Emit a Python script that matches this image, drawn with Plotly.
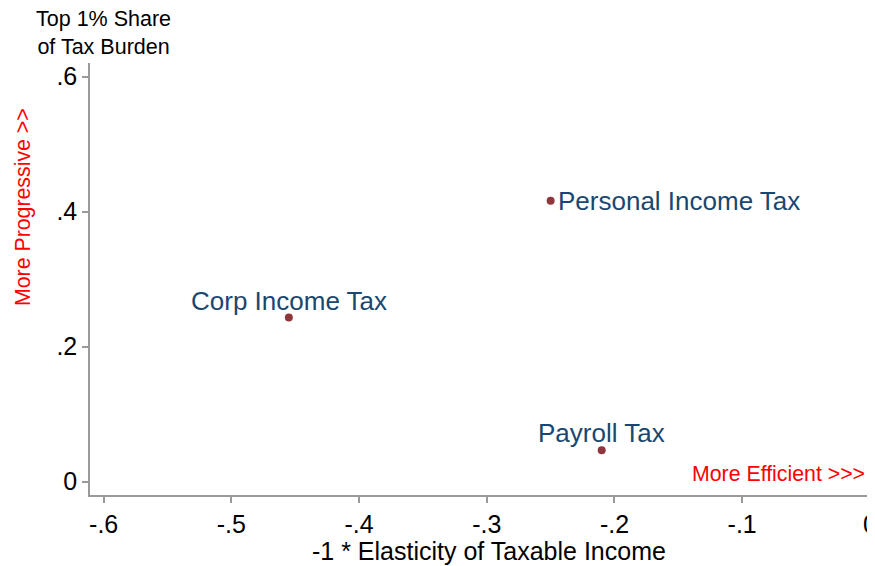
import plotly.graph_objects as go

taxes = ["Personal Income Tax", "Corp Income Tax", "Payroll Tax"]
elasticity = [-0.25, -0.455, -0.21]
top1_share = [0.416, 0.243, 0.0465]
label_side = ["right", "top", "top"]

x_ticks = [-0.6, -0.5, -0.4, -0.3, -0.2, -0.1, 0]
x_tick_labels = ["-.6", "-.5", "-.4", "-.3", "-.2", "-.1", "0"]
y_ticks = [0, 0.2, 0.4, 0.6]
y_tick_labels = ["0", ".2", ".4", ".6"]

FONT = "Liberation Sans, Arial, sans-serif"
AXIS_COLOR = "#9a9a9a"
LABEL_COLOR = "#1a476f"

fig = go.Figure()
fig.add_trace(go.Scatter(
    x=elasticity, y=top1_share, mode="markers",
    marker=dict(color="#90353b", size=8),
    cliponaxis=False, showlegend=False, hoverinfo="skip",
))

label_annotations = []
for name, xv, yv, side in zip(taxes, elasticity, top1_share, label_side):
    if side == "right":
        label_annotations.append(dict(
            text=name, x=xv, y=yv, xref="x", yref="y", showarrow=False,
            xanchor="left", yanchor="middle", xshift=5, yshift=0,
            font=dict(size=26, color=LABEL_COLOR)))
    else:
        label_annotations.append(dict(
            text=name, x=xv, y=yv, xref="x", yref="y", showarrow=False,
            xanchor="center", yanchor="bottom", yshift=0,
            font=dict(size=26, color=LABEL_COLOR)))

fig.update_layout(
    width=867, height=558,
    margin=dict(l=82, r=0, t=55, b=71, autoexpand=False),
    paper_bgcolor="white", plot_bgcolor="white",
    font=dict(family=FONT, color="black"),
    xaxis=dict(
        range=[-0.6107, 0.004], tickvals=x_ticks, ticktext=x_tick_labels,
        showgrid=False, zeroline=False, showline=True, linecolor=AXIS_COLOR,
        linewidth=1.5, ticks="outside", ticklen=6, tickcolor=AXIS_COLOR,
        tickwidth=1.5, tickfont=dict(size=25, color="black"), automargin=False,
        ticklabeloverflow="allow",
    ),
    yaxis=dict(
        range=[-0.0197, 0.62], tickvals=y_ticks, ticktext=y_tick_labels,
        showgrid=False, zeroline=False, showline=True, linecolor=AXIS_COLOR,
        linewidth=1.5, ticks="outside", ticklen=6, tickcolor=AXIS_COLOR,
        tickwidth=1.5, tickfont=dict(size=25, color="black"), automargin=False,
    ),
    annotations=label_annotations + [
        dict(text="Top 1% Share<br>of Tax Burden", xref="paper", yref="paper",
             x=(103 - 90) / 785, y=1 + (63 - 5) / 432, xanchor="center", yanchor="top",
             showarrow=False, font=dict(size=21.5, color="black"), align="center"),
        dict(text="-1 * Elasticity of Taxable Income", xref="paper", yref="paper",
             x=(489 - 90) / 785, y=-(551 - 495) / 432, xanchor="center", yanchor="middle",
             showarrow=False, font=dict(size=25, color="black")),
        dict(text="More Progressive >>", xref="paper", yref="paper",
             x=-(90 - 23) / 785, y=(495 - 207) / 432, xanchor="center", yanchor="middle",
             textangle=-90, showarrow=False, font=dict(size=21.3, color="red")),
        dict(text="More Efficient >>>", xref="paper", yref="paper",
             x=(867 - 90) / 785, y=(495 - 474) / 432, xanchor="right", yanchor="middle",
             showarrow=False, font=dict(size=21.3, color="red")),
    ],
)

fig.write_html("out.html")
